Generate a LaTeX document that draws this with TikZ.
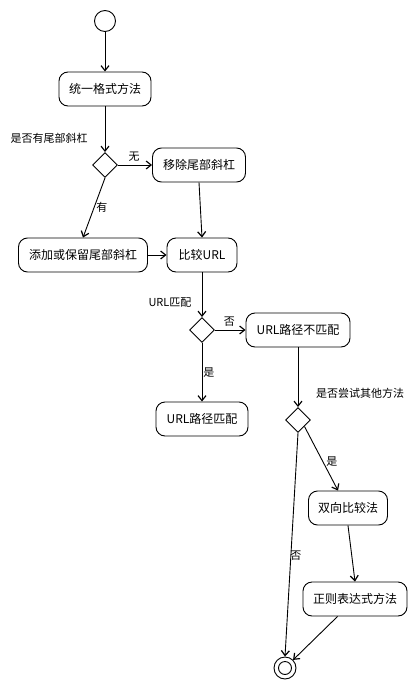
\documentclass[tikz,border=0pt]{standalone}
\usepackage{fontspec}
\setmainfont{Noto Sans CJK SC}
\usetikzlibrary{shapes.geometric,arrows.meta}
\begin{document}
\begin{tikzpicture}[x=1pt,y=-1pt,
  act/.style={draw, rounded corners=9pt, minimum height=34pt, inner sep=0pt, font=\fontsize{12}{14}\selectfont, line width=0.9pt},
  dec/.style={draw, diamond, minimum width=25pt, minimum height=25pt, inner sep=0pt, line width=0.9pt},
  lbl/.style={font=\fontsize{11}{13}\selectfont, inner sep=0pt},
  arr/.style={draw, line width=0.9pt, -{Straight Barb[length=5pt,width=8pt,line width=1.2pt]}}
]
\useasboundingbox (0,0) rectangle (412,685);
\node[draw, circle, minimum size=21pt, inner sep=0pt, line width=0.9pt] (start) at (105,21) {};
\node[act, minimum width=92pt] (unify) at (105,89) {统一格式方法};
\node[lbl] (q1) at (49,138) {是否有尾部斜杠};
\node[dec] (d1) at (105,165) {};
\node[act, minimum width=93pt] (remove) at (199,165) {移除尾部斜杠};
\node[act, minimum width=129pt] (add) at (83,255) {添加或保留尾部斜杠};
\node[act, minimum width=70pt] (cmp) at (202,255) {比较URL};
\node[lbl] (q2) at (170,303) {URL匹配};
\node[dec] (d2) at (202,330) {};
\node[act, minimum width=104pt] (nomatch) at (298,330) {URL路径不匹配};
\node[act, minimum width=92pt] (match) at (202,419) {URL路径匹配};
\node[lbl] (q3) at (360,393) {是否尝试其他方法};
\node[dec] (d3) at (298,420) {};
\node[act, minimum width=79pt] (bi) at (348,508) {双向比较法};
\node[act, minimum width=104pt] (re) at (355,599) {正则表达式方法};
\node[draw, circle, minimum size=22pt, inner sep=0pt, line width=0.9pt] (end) at (285,668) {};
\node[draw, circle, minimum size=13pt, inner sep=0pt, line width=0.9pt] (endin) at (285,668) {};

\draw[arr] (start) -- (unify);
\draw[arr] (unify) -- (d1);
\draw[arr] (d1) -- node[lbl, above, xshift=-1pt, yshift=3pt] {无} (remove);
\draw[arr] (d1.south) -- node[lbl, right, xshift=2pt, pos=0.5] {有} (add.north);
\draw[arr] (remove.south) -- (cmp.north);
\draw[arr] (add) -- (cmp);
\draw[arr] (cmp) -- (d2);
\draw[arr] (d2) -- node[lbl, above, xshift=-1pt, yshift=3pt] {否} (nomatch);
\draw[arr] (d2) -- node[lbl, right, xshift=1pt, pos=0.5] {是} (match);
\draw[arr] (nomatch) -- (d3);
\draw[arr] (d3.south east) -- node[lbl, right, xshift=3pt, pos=0.55] {是} (bi.north west -| 338,491);
\draw[arr] (bi.south) -- (re.north);
\draw[arr] (d3.south) -- node[lbl, right, xshift=-1pt, pos=0.55] {否} (end.north);
\draw[arr] (re.south west) ++(35,0) coordinate (reo) (reo) -- (end.north east);
\end{tikzpicture}
\end{document}
